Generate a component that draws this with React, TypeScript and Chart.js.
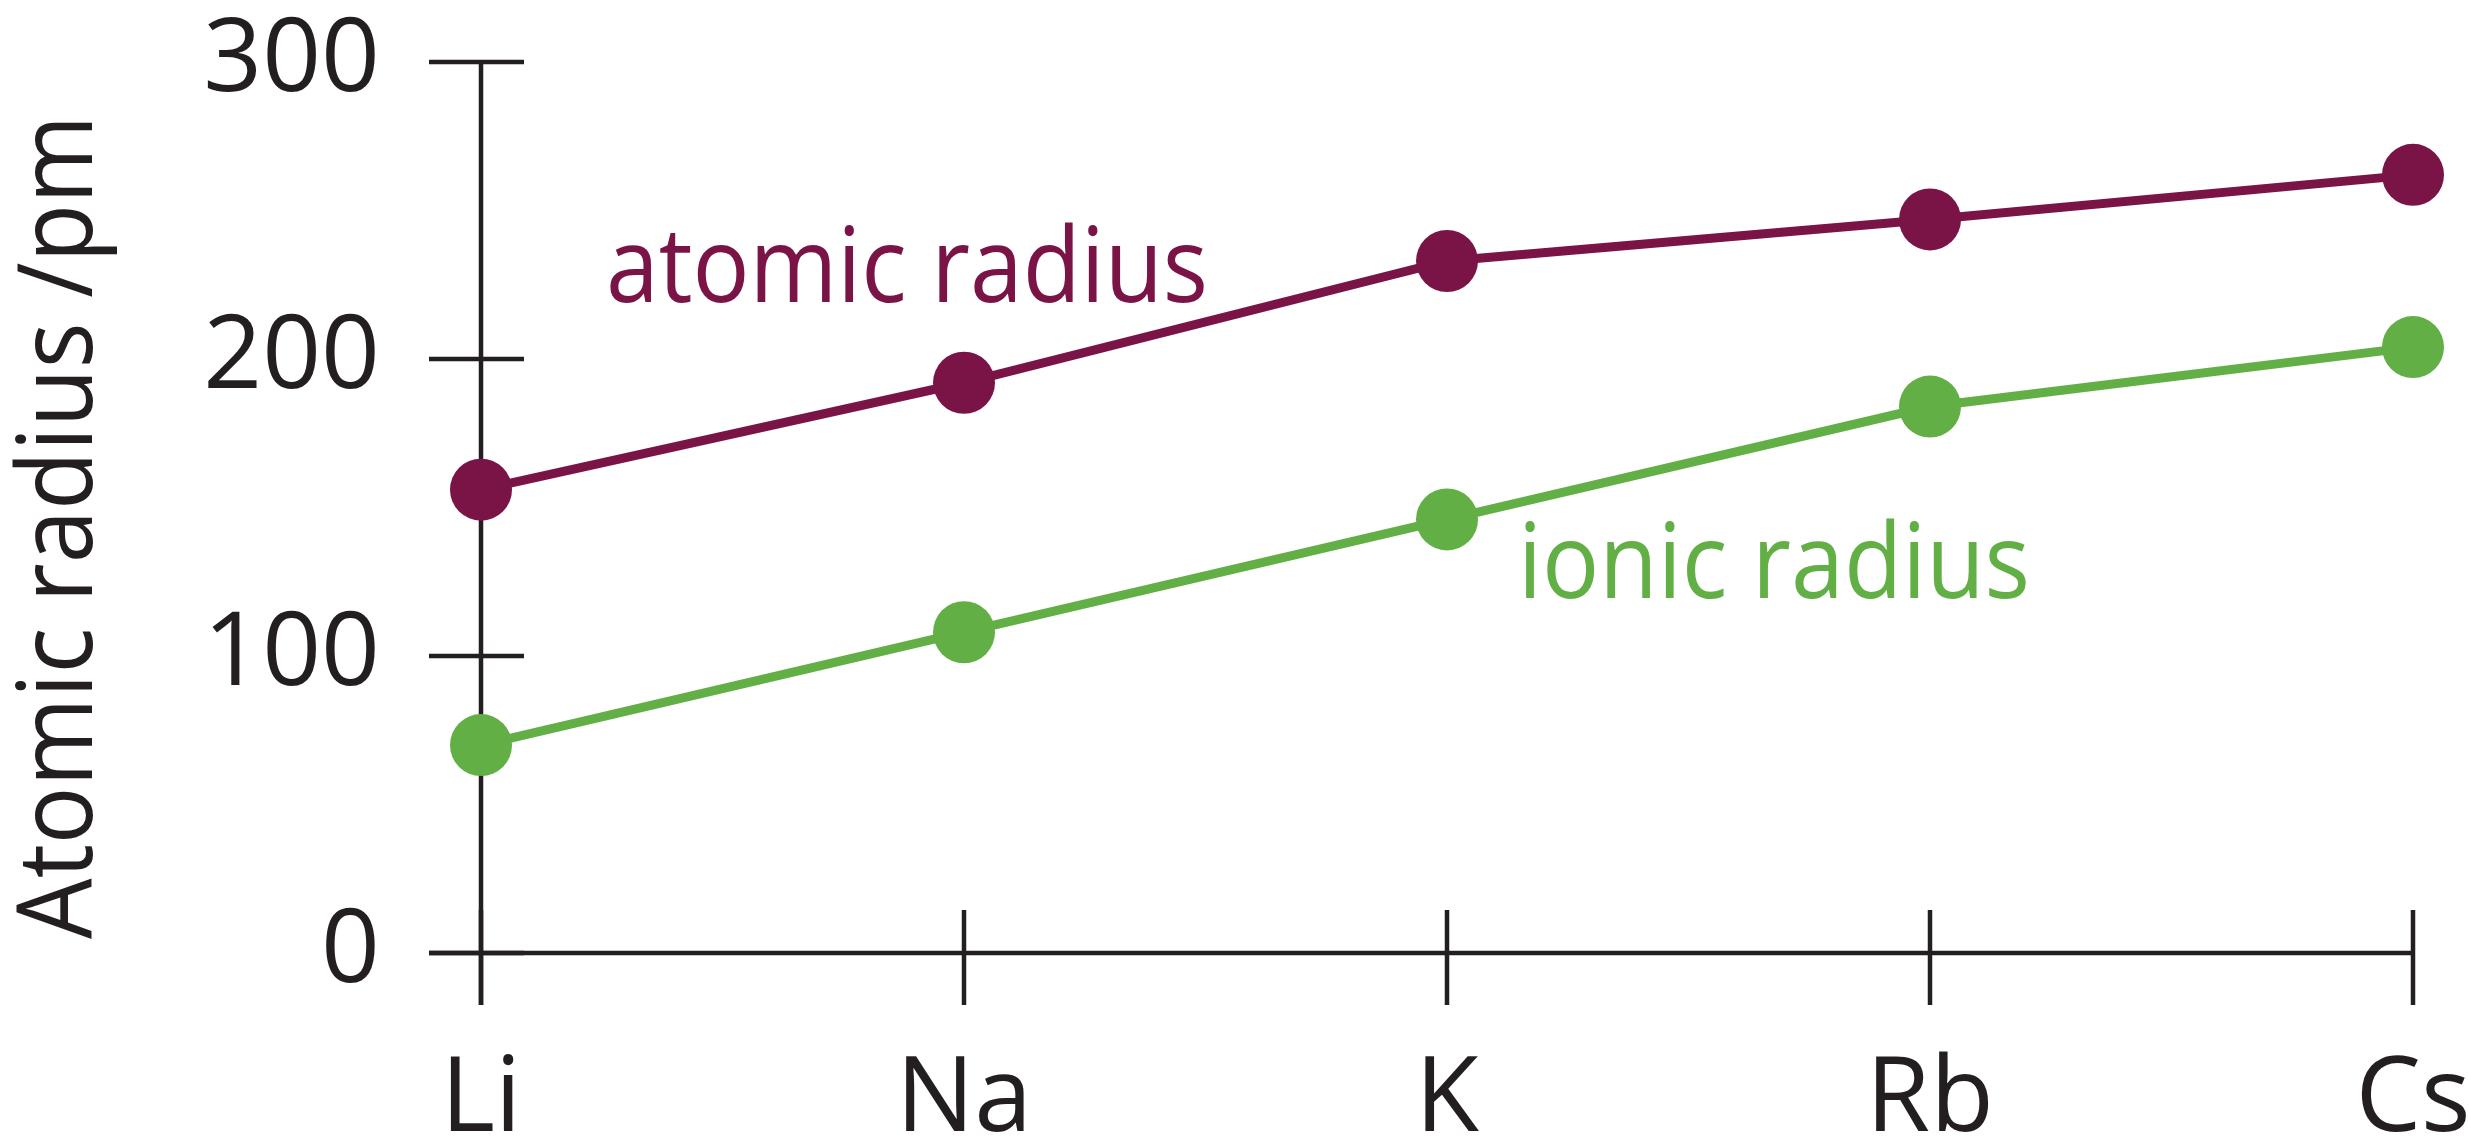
import { useEffect, useRef } from "react";
import { Chart, registerables } from "chart.js";

Chart.register(...registerables);

// ---- data ----
const elements = ["Li", "Na", "K", "Rb", "Cs"];
const atomicRadius = [156, 192, 233, 247, 262];
const ionicRadius = [70, 108, 146, 184, 204];
const yTickValues = [0, 100, 200, 300];
const yAxisTitle = "Atomic radius /pm";
const atomicLabel = "atomic radius";
const ionicLabel = "ionic radius";

// ---- styles ----
const INK = "#231F20";
const MAROON = "#7B1446";
const GREEN = "#62AF46";
const FONT = "'Open Sans', Lato, sans-serif";

const axesPlugin = {
  id: "crossAxes",
  beforeDatasetsDraw(chart: any) {
    const { ctx, scales } = chart;
    const x = scales.x;
    const y = scales.y;
    const x0 = x.getPixelForValue(0);
    const xN = x.getPixelForValue(elements.length - 1);
    const yTop = y.getPixelForValue(yTickValues[yTickValues.length - 1]);
    const yZero = y.getPixelForValue(0);
    const seg = (ax: number, ay: number, bx: number, by: number) => {
      ctx.beginPath();
      ctx.moveTo(ax, ay);
      ctx.lineTo(bx, by);
      ctx.stroke();
    };
    ctx.save();
    ctx.strokeStyle = INK;
    ctx.lineWidth = 4.5;
    ctx.lineCap = "butt";
    seg(x0, yTop, x0, yZero + 52);
    seg(x0 - 52, yZero, xN, yZero);
    yTickValues.forEach((v) => {
      const py = y.getPixelForValue(v);
      seg(x0 - 52, py, x0 + 43, py);
    });
    elements.forEach((_, i) => {
      const px = x.getPixelForValue(i);
      seg(px, yZero - 43, px, yZero + 52);
    });
    ctx.restore();
  },
  afterDatasetsDraw(chart: any) {
    const { ctx, chartArea } = chart;
    ctx.save();
    // y-axis title
    ctx.fillStyle = INK;
    ctx.font = `400 105px ${FONT}`;
    ctx.textAlign = "center";
    ctx.textBaseline = "middle";
    ctx.translate(62, 527);
    ctx.rotate(-Math.PI / 2);
    ctx.fillText(yAxisTitle, 0, 0, 824);
    ctx.restore();

    ctx.save();
    ctx.font = `400 104px ${FONT}`;
    ctx.textAlign = "left";
    ctx.textBaseline = "alphabetic";
    ctx.fillStyle = MAROON;
    ctx.fillText(atomicLabel, chartArea.left + 125, 302, 602);
    ctx.fillStyle = GREEN;
    ctx.fillText(ionicLabel, chartArea.left + 1037, 598, 512);
    ctx.restore();
  },
};

export default function App() {
  const canvasRef = useRef<HTMLCanvasElement | null>(null);

  useEffect(() => {
    if (!canvasRef.current) return;
    const chart = new Chart(canvasRef.current, {
      type: "line",
      data: {
        labels: elements,
        datasets: [
          {
            label: atomicLabel,
            data: atomicRadius,
            borderColor: MAROON,
            backgroundColor: MAROON,
            pointBackgroundColor: MAROON,
            borderWidth: 9,
            pointRadius: 31,
            pointBorderWidth: 0,
            tension: 0,
            clip: false,
          } as any,
          {
            label: ionicLabel,
            data: ionicRadius,
            borderColor: GREEN,
            backgroundColor: GREEN,
            pointBackgroundColor: GREEN,
            borderWidth: 9,
            pointRadius: 31,
            pointBorderWidth: 0,
            tension: 0,
            clip: false,
          } as any,
        ],
      },
      options: {
        animation: false,
        responsive: true,
        maintainAspectRatio: false,
        events: [],
        layout: { padding: { left: 0, top: 62, right: 55, bottom: 0 } },
        plugins: {
          legend: { display: false },
          tooltip: { enabled: false },
          title: { display: false },
        },
        scales: {
          x: {
            type: "category",
            offset: false,
            grid: { display: false, drawTicks: false },
            border: { display: false },
            ticks: {
              color: INK,
              font: { family: FONT, size: 104 },
              padding: 86,
              maxRotation: 0,
              autoSkip: false,
            },
            afterFit: (s: any) => {
              s.height = 186;
              s.paddingLeft = 0;
              s.paddingRight = 0;
            },
          },
          y: {
            min: 0,
            max: 300,
            grid: { display: false, drawTicks: false },
            border: { display: false },
            afterBuildTicks: (s: any) => {
              s.ticks = yTickValues.map((v) => ({ value: v }));
            },
            ticks: {
              color: INK,
              font: { family: FONT, size: 103 },
              padding: 101,
              callback: (v: any) => String(v),
            },
            afterFit: (s: any) => {
              s.width = 481;
              s.paddingTop = 0;
              s.paddingBottom = 0;
            },
          },
        },
      } as any,
      plugins: [axesPlugin],
    });
    return () => chart.destroy();
  }, []);

  return (
    <div
      style={{
        position: "fixed",
        left: 0,
        top: 0,
        width: "100vw",
        height: "100vh",
        background: "#ffffff",
      }}
    >
      <canvas ref={canvasRef} />
    </div>
  );
}
